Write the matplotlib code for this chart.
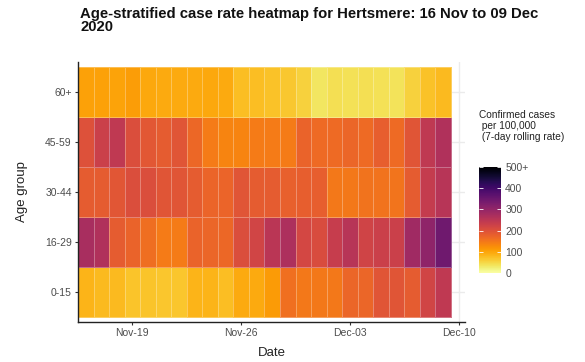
import matplotlib

matplotlib.use("Agg")
import matplotlib.dates as mdates
import matplotlib.pyplot as plt
import numpy as np
import pandas as pd

plt.rcParams["font.family"] = ["Liberation Sans", "DejaVu Sans"]

# data (7-day rolling rate per 100,000)
dates = pd.date_range("2020-11-16", "2020-12-09", freq="D")
age_groups = ["0-15", "16-29", "30-44", "45-59", "60+"]
rate_0_15 = [85, 80, 80, 70, 70, 68, 68, 85, 85, 75, 95, 95,
             110, 160, 150, 150, 150, 170, 170, 195, 195, 185, 220, 245]
rate_16_29 = [275, 265, 185, 175, 162, 145, 145, 175, 170, 168, 205, 220,
              250, 268, 215, 208, 235, 255, 222, 230, 230, 285, 305, 345]
rate_30_44 = [185, 185, 192, 205, 205, 195, 195, 185, 172, 172, 195, 185,
              185, 178, 180, 180, 150, 150, 155, 155, 153, 185, 238, 255]
rate_45_59 = [200, 230, 245, 205, 190, 185, 195, 168, 145, 135, 135, 145,
              145, 145, 175, 165, 165, 170, 165, 180, 165, 195, 245, 265]
rate_60 = [105, 105, 102, 108, 97, 94, 94, 94, 97, 94, 75, 75,
           72, 65, 55, 35, 42, 40, 42, 40, 38, 55, 72, 80]
cbar_ticks = [0, 100, 200, 300, 400, 500]
cbar_labels = ["0", "100", "200", "300", "400", "500+"]
x_ticks = ["2020-11-19", "2020-11-26", "2020-12-03", "2020-12-10"]

GRID = "#EBEBEB"
TEXT = "#4D4D4D"

values = np.array([rate_0_15, rate_16_29, rate_30_44, rate_45_59, rate_60])
xnum = mdates.date2num(dates)
x_edges = np.append(xnum - 0.5, xnum[-1] + 0.5)
y_edges = np.arange(len(age_groups) + 1) + 0.5

fig = plt.figure(figsize=(5.85, 3.62), dpi=100)
ax = fig.add_axes([0.1333, 0.1105, 0.6615, 0.7182])

for y in range(1, len(age_groups) + 1):
    ax.axhline(y, color=GRID, lw=1.0, zorder=0)
ax.axvline(mdates.date2num(pd.Timestamp(x_ticks[-1])), color=GRID, lw=1.0, zorder=0)

mesh = ax.pcolormesh(x_edges, y_edges, values, cmap="inferno_r", vmin=0, vmax=500,
                     edgecolors=(1, 1, 1, 0.3), linewidth=0.6, zorder=1)

ax.set_xlim(x_edges[0], x_edges[-1] + 0.9)
ax.set_ylim(0.4, len(age_groups) + 0.6)
ax.set_yticks(range(1, len(age_groups) + 1))
ax.set_yticklabels(age_groups)
tick_pos = [mdates.date2num(pd.Timestamp(d)) for d in x_ticks]
ax.set_xticks(tick_pos)
ax.set_xticklabels([pd.Timestamp(d).strftime("%b-%d") for d in x_ticks])

ax.tick_params(axis="both", labelsize=7.5, colors=TEXT, length=2.5, width=0.8, pad=2)
ax.tick_params(axis="both", color="#333333")
for s in ["top", "right"]:
    ax.spines[s].set_visible(False)
for s in ["left", "bottom"]:
    ax.spines[s].set_color("#222222")
    ax.spines[s].set_linewidth(1.0)
ax.set_facecolor("white")

ax.set_xlabel("Date", fontsize=9.5, color="#222222", labelpad=6)
ax.set_ylabel("Age group", fontsize=9.5, color="#222222", labelpad=12)

fig.text(0.1368, 0.981,
         "Age-stratified case rate heatmap for Hertsmere: 16 Nov to 09 Dec\n2020",
         fontsize=10.7, fontweight="bold", ha="left", va="top", color="#111111",
         linespacing=0.95)

# colour bar
cax = fig.add_axes([0.8188, 0.2459, 0.0376, 0.2928])
cb = fig.colorbar(mesh, cax=cax, ticks=cbar_ticks)
cb.set_ticklabels(cbar_labels)
cb.outline.set_visible(False)
cax.tick_params(labelsize=7.5, colors="white", length=3, width=0.6,
                direction="in", left=True, right=True, pad=3)
for lbl in cax.get_yticklabels():
    lbl.set_color(TEXT)

fig.text(0.8188, 0.695, "Confirmed cases\n per 100,000\n (7-day rolling rate)",
         fontsize=7.3, ha="left", va="top", color="#222222", linespacing=1.1)

fig.savefig("out.png", dpi=100)
